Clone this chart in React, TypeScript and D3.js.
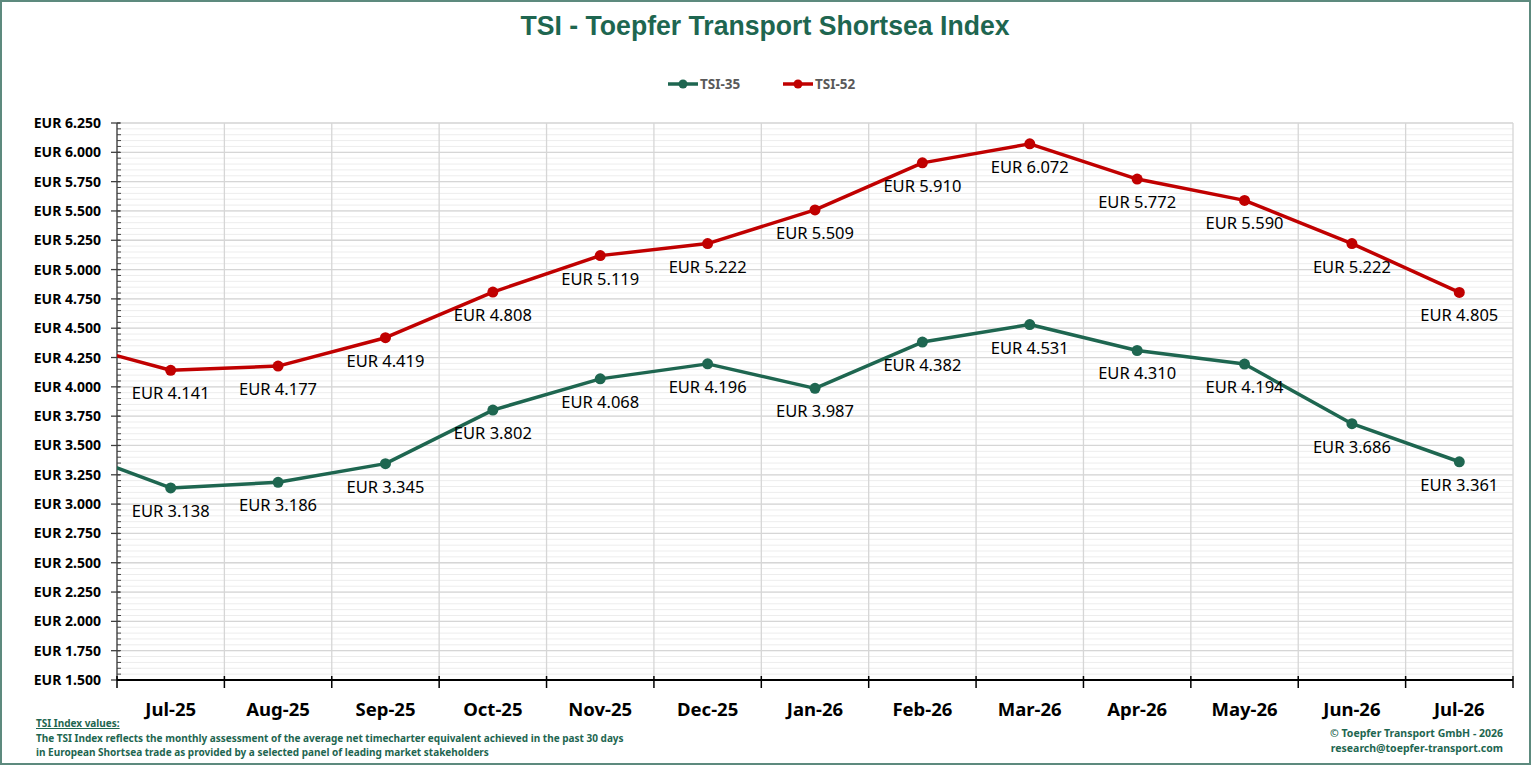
import React from "react";
import * as d3 from "d3";

const months = ["Jul-25", "Aug-25", "Sep-25", "Oct-25", "Nov-25", "Dec-25", "Jan-26", "Feb-26", "Mar-26", "Apr-26", "May-26", "Jun-26", "Jul-26"];
// previous month (Jun-25), only partly visible at the left edge
const prevTsi35 = 3.48;
const prevTsi52 = 4.39;
const tsi35 = [3.138, 3.186, 3.345, 3.802, 4.068, 4.196, 3.987, 4.382, 4.531, 4.31, 4.194, 3.686, 3.361];
const tsi52 = [4.141, 4.177, 4.419, 4.808, 5.119, 5.222, 5.509, 5.91, 6.072, 5.772, 5.59, 5.222, 4.805];
const yMin = 1.5;
const yMax = 6.25;

const W = 1531;
const H = 765;
const margin = { top: 123, right: 18, bottom: 85, left: 117 };
const GREEN = "#1e6650";
const RED = "#c00000";
const FONT = "'Noto Sans', 'Open Sans', sans-serif";

const App = () => {
  const x = d3.scaleLinear().domain([-0.5, months.length - 0.5]).range([margin.left, W - margin.right]);
  const y = d3.scaleLinear().domain([yMin, yMax]).range([H - margin.bottom, margin.top]);
  const majors = d3.range(0, 20).map(i => yMin + i * 0.25);
  const minors = d3.range(0, 96).map(i => yMin + i * 0.05);
  const bounds = d3.range(0, months.length + 1).map(i => i - 0.5);
  const fmt = d3.format(".3f");

  const series = [
    { name: "TSI-35", color: GREEN, prev: prevTsi35, values: tsi35 },
    { name: "TSI-52", color: RED, prev: prevTsi52, values: tsi52 },
  ];

  const line = d3.line<[number, number]>().x(d => x(d[0])).y(d => y(d[1]));
  const x0 = margin.left;
  const x1 = W - margin.right;
  const yb = H - margin.bottom;

  return (
    <svg width={W} height={H} style={{ position: "absolute", left: 0, top: 0, background: "#fff" }} fontFamily={FONT}>
      <defs>
        <clipPath id="plot">
          <rect x={x0} y={margin.top - 10} width={x1 - x0} height={yb - margin.top + 10} />
        </clipPath>
      </defs>
      <rect x={1} y={1} width={W - 2} height={H - 2} fill="#fff" stroke="#5d8a7e" strokeWidth={2} />

      <text x={765} y={35} textAnchor="middle" fontFamily="'Liberation Sans Narrow', 'Arial Narrow', 'Liberation Sans', sans-serif" fontWeight="bold" fontSize={27} fill={GREEN} textLength={489} lengthAdjust="spacingAndGlyphs">
        TSI - Toepfer Transport Shortsea Index
      </text>

      {/* legend */}
      {series.map((s, i) => {
        const lx = 668 + i * 115;
        return (
          <g key={s.name}>
            <line x1={lx} x2={lx + 30} y1={84} y2={84} stroke={s.color} strokeWidth={3.5} />
            <circle cx={lx + 15} cy={84} r={4.5} fill={s.color} />
            <text x={lx + 32} y={89} fontSize={13.5} fontWeight="bold" fill="#595959">{s.name}</text>
          </g>
        );
      })}

      {/* grid */}
      {minors.map(v => (
        <line key={"m" + v} x1={x0} x2={x1} y1={y(v)} y2={y(v)} stroke="#ededed" strokeWidth={1} />
      ))}
      {majors.map(v => (
        <line key={"g" + v} x1={x0} x2={x1} y1={y(v)} y2={y(v)} stroke="#d6d6d6" strokeWidth={1.3} />
      ))}
      {bounds.map(b => (
        <line key={"v" + b} x1={x(b)} x2={x(b)} y1={margin.top} y2={yb} stroke="#d6d6d6" strokeWidth={1.3} />
      ))}

      {/* y axis */}
      <line x1={x0} x2={x0} y1={margin.top} y2={yb} stroke="#404040" strokeWidth={1.3} />
      {minors.map(v => (
        <line key={"mt" + v} x1={x0} x2={x0 + 4} y1={y(v)} y2={y(v)} stroke="#404040" strokeWidth={1} />
      ))}
      {majors.map(v => (
        <g key={"t" + v}>
          <line x1={x0 - 6} x2={x0 + 3} y1={y(v)} y2={y(v)} stroke="#404040" strokeWidth={1.3} />
          <text x={x0 - 16} y={y(v) + 5} textAnchor="end" fontSize={14} fontWeight="bold" fill="#000">
            {"EUR " + fmt(v)}
          </text>
        </g>
      ))}

      {/* x axis */}
      <line x1={x0} x2={x1} y1={yb} y2={yb} stroke="#000" strokeWidth={2} />
      {bounds.map(b => (
        <line key={"xt" + b} x1={x(b)} x2={x(b)} y1={yb - 4} y2={yb + 8} stroke="#000" strokeWidth={1.5} />
      ))}
      {months.map((m, i) => (
        <text key={m} x={x(i)} y={716} textAnchor="middle" fontSize={18.5} fontWeight="bold" fill="#000">{m}</text>
      ))}

      {/* series */}
      {series.map(s => {
        const pts: [number, number][] = [[-1, s.prev], ...s.values.map((v, i) => [i, v] as [number, number])];
        return (
          <g key={s.name}>
            <path d={line(pts) || ""} fill="none" stroke={s.color} strokeWidth={3.5} strokeLinejoin="round" clipPath="url(#plot)" />
            {s.values.map((v, i) => (
              <circle key={i} cx={x(i)} cy={y(v)} r={5.5} fill={s.color} />
            ))}
            {s.values.map((v, i) => (
              <text key={"l" + i} x={x(i)} y={y(v) + 29} textAnchor="middle" fontSize={16.5} fill="#000">
                {"EUR " + fmt(v)}
              </text>
            ))}
          </g>
        );
      })}

      {/* footer */}
      <text x={36} y={727} fontSize={10} fontWeight="bold" fill={GREEN} textDecoration="underline">TSI Index values:</text>
      <text x={36} y={742} fontSize={10} fontWeight="bold" fill={GREEN}>
        The TSI Index reflects the monthly assessment of the average net timecharter equivalent achieved in the past 30 days
      </text>
      <text x={36} y={756} fontSize={10} fontWeight="bold" fill={GREEN}>
        in European Shortsea trade as provided by a selected panel of leading market stakeholders
      </text>
      <text x={1503} y={737} textAnchor="end" fontSize={10.5} fontWeight="bold" fill={GREEN}>© Toepfer Transport GmbH - 2026</text>
      <text x={1503} y={752} textAnchor="end" fontSize={10.5} fontWeight="bold" fill={GREEN}>research@toepfer-transport.com</text>
    </svg>
  );
};

export default App;
